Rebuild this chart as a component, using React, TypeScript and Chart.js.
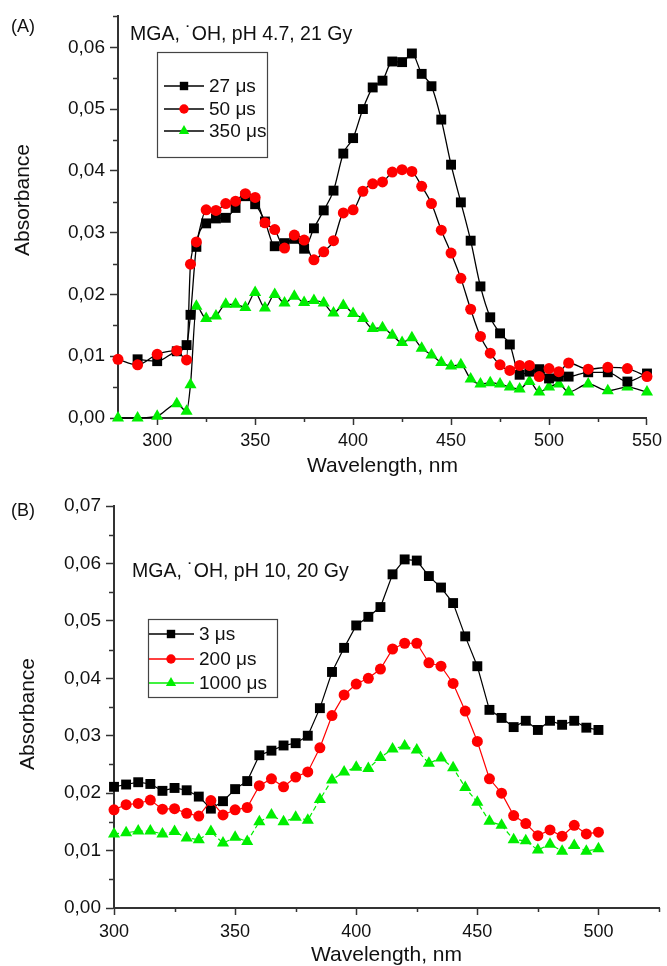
import React, { useEffect, useRef } from 'react';
import { Chart, registerables } from 'chart.js';

Chart.register(...registerables);

const FONT = '"Liberation Sans", Arial, Helvetica, sans-serif';

// ---------------- Panel (A) data ----------------
const wlA27 = [290, 300, 310, 315, 317, 320, 325, 330, 335, 340, 345, 350, 355, 360, 365, 370, 375, 380, 385, 390, 395, 400, 405, 410, 415, 420, 425, 430, 435, 440, 445, 450, 455, 460, 465, 470, 475, 480, 485, 490, 495, 500, 505, 510, 520, 530, 540, 550];
const absA27 = [0.0095, 0.0092, 0.0108, 0.0118, 0.0167, 0.0277, 0.0315, 0.0323, 0.0324, 0.0340, 0.0359, 0.0346, 0.0318, 0.0278, 0.0283, 0.0290, 0.0274, 0.0307, 0.0336, 0.0368, 0.0428, 0.0453, 0.0500, 0.0535, 0.0546, 0.0577, 0.0576, 0.0590, 0.0557, 0.0537, 0.0483, 0.0410, 0.0349, 0.0287, 0.0213, 0.0163, 0.0137, 0.0119, 0.0070, 0.0075, 0.0079, 0.0064, 0.0067, 0.0067, 0.0074, 0.0074, 0.0059, 0.0072];

const wlA50 = [280, 290, 300, 310, 315, 317, 320, 325, 330, 335, 340, 345, 350, 355, 360, 365, 370, 375, 380, 385, 390, 395, 400, 405, 410, 415, 420, 425, 430, 435, 440, 445, 450, 455, 460, 465, 470, 475, 480, 485, 490, 495, 500, 505, 510, 520, 530, 540, 550];
const absA50 = [0.0095, 0.0086, 0.0103, 0.0109, 0.0094, 0.0249, 0.0285, 0.0337, 0.0336, 0.0347, 0.0351, 0.0363, 0.0357, 0.0316, 0.0305, 0.0275, 0.0296, 0.0288, 0.0256, 0.0269, 0.0287, 0.0332, 0.0337, 0.0367, 0.0379, 0.0382, 0.0398, 0.0402, 0.0399, 0.0375, 0.0347, 0.0304, 0.0267, 0.0226, 0.0176, 0.0132, 0.0105, 0.0086, 0.0077, 0.0085, 0.0085, 0.0067, 0.0080, 0.0075, 0.0089, 0.0079, 0.0082, 0.0080, 0.0067];

const wlA350 = [280, 290, 300, 310, 315, 317, 320, 325, 330, 335, 340, 345, 350, 355, 360, 365, 370, 375, 380, 385, 390, 395, 400, 405, 410, 415, 420, 425, 430, 435, 440, 445, 450, 455, 460, 465, 470, 475, 480, 485, 490, 495, 500, 505, 510, 520, 530, 540, 550];
const absA350 = [0.0000, 0.0000, 0.0003, 0.0023, 0.0011, 0.0054, 0.0181, 0.0161, 0.0165, 0.0184, 0.0184, 0.0179, 0.0203, 0.0178, 0.0200, 0.0186, 0.0197, 0.0187, 0.0190, 0.0186, 0.0170, 0.0182, 0.0169, 0.0161, 0.0145, 0.0146, 0.0134, 0.0122, 0.0130, 0.0113, 0.0102, 0.0090, 0.0084, 0.0086, 0.0063, 0.0055, 0.0057, 0.0055, 0.0050, 0.0047, 0.0059, 0.0042, 0.0050, 0.0055, 0.0042, 0.0055, 0.0044, 0.0050, 0.0042];

const seriesLabelsA = ['27 μs', '50 μs', '350 μs'];

// ---------------- Panel (B) data ----------------
const wlB = [300, 305, 310, 315, 320, 325, 330, 335, 340, 345, 350, 355, 360, 365, 370, 375, 380, 385, 390, 395, 400, 405, 410, 415, 420, 425, 430, 435, 440, 445, 450, 455, 460, 465, 470, 475, 480, 485, 490, 495, 500];
const absB3 = [0.0211, 0.0215, 0.0219, 0.0216, 0.0204, 0.0209, 0.0205, 0.0194, 0.0173, 0.0186, 0.0207, 0.0221, 0.0266, 0.0274, 0.0283, 0.0287, 0.0300, 0.0348, 0.0411, 0.0453, 0.0492, 0.0507, 0.0524, 0.0581, 0.0607, 0.0605, 0.0578, 0.0558, 0.0531, 0.0473, 0.0421, 0.0345, 0.0331, 0.0315, 0.0326, 0.0310, 0.0326, 0.0319, 0.0326, 0.0314, 0.0310];
const absB200 = [0.0171, 0.0180, 0.0182, 0.0188, 0.0172, 0.0173, 0.0165, 0.0160, 0.0187, 0.0162, 0.0171, 0.0175, 0.0213, 0.0225, 0.0211, 0.0228, 0.0237, 0.0279, 0.0335, 0.0371, 0.0390, 0.0400, 0.0416, 0.0451, 0.0461, 0.0461, 0.0427, 0.0421, 0.0391, 0.0343, 0.0290, 0.0225, 0.0200, 0.0161, 0.0147, 0.0126, 0.0136, 0.0125, 0.0144, 0.0129, 0.0132];
const absB1000 = [0.0129, 0.0131, 0.0134, 0.0134, 0.0129, 0.0133, 0.0122, 0.0119, 0.0133, 0.0113, 0.0123, 0.0116, 0.0150, 0.0162, 0.0150, 0.0158, 0.0153, 0.0189, 0.0223, 0.0237, 0.0245, 0.0243, 0.0262, 0.0277, 0.0282, 0.0275, 0.0252, 0.0261, 0.0244, 0.0210, 0.0184, 0.0151, 0.0144, 0.0119, 0.0117, 0.0101, 0.0111, 0.0099, 0.0109, 0.0099, 0.0103];

const seriesLabelsB = ['3 μs', '200 μs', '1000 μs'];

const xTitle = 'Wavelength, nm';
const yTitle = 'Absorbance';

// ---------------- helpers ----------------
const BLACK = '#000000';
const RED = '#ff0000';
const GREEN = '#00ee00';
const AXIS = '#333333';
const TEXT = '#111111';

const pts = (xs: number[], ys: number[]) => xs.map((x, i) => ({ x, y: ys[i] }));
const fmtY = (v: any) => Number(v).toFixed(2).replace('.', ',');

function drawMarker(ctx: CanvasRenderingContext2D, style: string, x: number, y: number, r: number, color: string) {
  ctx.save();
  ctx.fillStyle = color;
  ctx.beginPath();
  if (style === 'rect') {
    const h = r * Math.SQRT1_2;
    ctx.rect(x - h, y - h, 2 * h, 2 * h);
  } else if (style === 'circle') {
    ctx.arc(x, y, r, 0, Math.PI * 2);
  } else {
    ctx.moveTo(x, y - r);
    ctx.lineTo(x + r * 0.866, y + r / 2);
    ctx.lineTo(x - r * 0.866, y + r / 2);
    ctx.closePath();
  }
  ctx.fill();
  ctx.restore();
}

interface Decor {
  panel: { text: string; x: number; y: number };
  note: { text: string; x: number; y: number };
  yTitle: { text: string; x: number; y: number };
  legend: { box: [number, number, number, number]; rows: number[]; lineX1: number; lineX2: number; markerX: number; textX: number };
}

function makeDecor(d: Decor) {
  return {
    id: 'decor',
    afterDraw(chart: any) {
      const ctx: CanvasRenderingContext2D = chart.ctx;
      ctx.save();
      // minor ticks
      ctx.strokeStyle = AXIS;
      ctx.lineWidth = 1.5;
      const xs = chart.scales.x;
      const ys = chart.scales.y;
      const minorFor = (scale: any) => {
        const t = scale.ticks;
        const step = t[1].value - t[0].value;
        const half = step / 2;
        const out: number[] = [];
        const k0 = Math.ceil(scale.min / half - 1e-6);
        const k1 = Math.floor(scale.max / half + 1e-6);
        for (let k = k0; k <= k1; k++) if (Math.abs(k % 2) === 1) out.push(k * half);
        return out;
      };
      minorFor(ys).forEach((v) => {
        const py = Math.round(ys.getPixelForValue(v)) + 0.5;
        ctx.beginPath();
        ctx.moveTo(ys.right, py);
        ctx.lineTo(ys.right - 5, py);
        ctx.stroke();
      });
      minorFor(xs).forEach((v) => {
        const px = Math.round(xs.getPixelForValue(v)) + 0.5;
        ctx.beginPath();
        ctx.moveTo(px, xs.top);
        ctx.lineTo(px, xs.top + 4);
        ctx.stroke();
      });

      // panel label and annotation
      ctx.fillStyle = TEXT;
      ctx.textAlign = 'left';
      ctx.textBaseline = 'alphabetic';
      ctx.font = `18px ${FONT}`;
      ctx.fillText(d.panel.text, d.panel.x, d.panel.y);
      ctx.font = `19.5px ${FONT}`;
      ctx.fillText(d.note.text, d.note.x, d.note.y);

      // y title
      ctx.save();
      ctx.translate(d.yTitle.x, d.yTitle.y);
      ctx.rotate(-Math.PI / 2);
      ctx.textAlign = 'center';
      ctx.textBaseline = 'middle';
      ctx.font = `21px ${FONT}`;
      ctx.fillText(d.yTitle.text, 0, 0);
      ctx.restore();

      // legend
      const L = d.legend;
      const [bx, by, bw, bh] = L.box;
      ctx.fillStyle = '#ffffff';
      ctx.fillRect(bx, by, bw, bh);
      ctx.strokeStyle = '#444444';
      ctx.lineWidth = 1.2;
      ctx.strokeRect(bx + 0.5, by + 0.5, bw, bh);
      chart.data.datasets.forEach((ds: any, i: number) => {
        const yy = L.rows[i];
        ctx.strokeStyle = ds.borderColor;
        ctx.lineWidth = 1.3;
        ctx.setLineDash([]);
        ctx.beginPath();
        ctx.moveTo(L.lineX1, yy);
        ctx.lineTo(L.lineX2, yy);
        ctx.stroke();
        drawMarker(ctx, ds.pointStyle, L.markerX, yy, ds.pointRadius * 0.85, ds.pointBackgroundColor);
        ctx.fillStyle = TEXT;
        ctx.font = `19px ${FONT}`;
        ctx.textAlign = 'left';
        ctx.textBaseline = 'middle';
        ctx.fillText(ds.label, L.textX, yy + 1);
      });
      ctx.restore();
    },
  };
}

function axisX(min: number, max: number, height: number, labelPad: number, titlePad: number) {
  return {
    type: 'linear',
    position: 'bottom',
    min,
    max,
    ticks: {
      stepSize: 50,
      includeBounds: false,
      maxRotation: 0,
      autoSkip: false,
      padding: labelPad,
      color: TEXT,
      font: { family: FONT, size: 18 },
      callback: (v: any) => String(v),
    },
    grid: { drawOnChartArea: false, drawTicks: true, tickLength: 7, tickColor: AXIS, tickWidth: 1.5, color: AXIS },
    border: { display: true, color: AXIS, width: 2 },
    title: {
      display: true,
      text: xTitle,
      color: TEXT,
      font: { family: FONT, size: 21, lineHeight: 1 },
      padding: { top: 0, bottom: titlePad },
    },
    afterFit: (s: any) => {
      s.height = height;
    },
  };
}

function axisY(max: number, width: number) {
  return {
    type: 'linear',
    position: 'left',
    min: 0,
    max,
    ticks: {
      stepSize: 0.01,
      includeBounds: false,
      padding: 5,
      color: TEXT,
      font: { family: FONT, size: 19 },
      callback: fmtY,
    },
    grid: { drawOnChartArea: false, drawTicks: true, tickLength: 8, tickColor: AXIS, tickWidth: 1.5, color: AXIS },
    border: { display: true, color: AXIS, width: 2 },
    afterFit: (s: any) => {
      s.width = width;
    },
  };
}

function configA() {
  const common = { borderColor: BLACK, borderWidth: 1.3, pointBorderWidth: 0, cubicInterpolationMode: 'monotone', clip: false };
  return {
    type: 'line',
    data: {
      datasets: [
        { ...common, label: seriesLabelsA[0], data: pts(wlA27, absA27), pointStyle: 'rect', pointRadius: 7, pointBackgroundColor: BLACK, order: 2 },
        { ...common, label: seriesLabelsA[1], data: pts(wlA50, absA50), pointStyle: 'circle', pointRadius: 5.5, pointBackgroundColor: RED, order: 1 },
        { ...common, label: seriesLabelsA[2], data: pts(wlA350, absA350), pointStyle: 'triangle', pointRadius: 7, pointBackgroundColor: GREEN, order: 3 },
      ],
    },
    options: {
      responsive: false,
      animation: false,
      events: [],
      layout: { padding: { left: 0, top: 15, right: 17, bottom: 0 } },
      scales: { x: axisX(280, 550, 64, 5, 5), y: axisY(0.065, 118) },
      plugins: { legend: { display: false }, tooltip: { enabled: false }, title: { display: false } },
    },
    plugins: [
      makeDecor({
        panel: { text: '(A)', x: 11, y: 32 },
        note: { text: 'MGA, \u02D9OH, pH 4.7, 21 Gy', x: 130, y: 40 },
        yTitle: { text: yTitle, x: 23, y: 200 },
        legend: { box: [157, 52, 110, 105], rows: [86, 109, 131], lineX1: 164, lineX2: 204, markerX: 184, textX: 209 },
      }),
    ],
  };
}

function configB() {
  const common = { borderWidth: 1.2, pointBorderWidth: 0, tension: 0, clip: false };
  return {
    type: 'line',
    data: {
      datasets: [
        { ...common, label: seriesLabelsB[0], data: pts(wlB, absB3), borderColor: BLACK, pointStyle: 'rect', pointRadius: 7, pointBackgroundColor: BLACK, order: 2 },
        { ...common, label: seriesLabelsB[1], data: pts(wlB, absB200), borderColor: RED, pointStyle: 'circle', pointRadius: 5.5, pointBackgroundColor: RED, order: 1 },
        { ...common, label: seriesLabelsB[2], data: pts(wlB, absB1000), borderColor: GREEN, borderDash: [5, 3], pointStyle: 'triangle', pointRadius: 7, pointBackgroundColor: GREEN, order: 3 },
      ],
    },
    options: {
      responsive: false,
      animation: false,
      events: [],
      layout: { padding: { left: 0, top: 24, right: 8, bottom: 0 } },
      scales: { x: axisX(300, 525, 58, 6, 0), y: axisY(0.07, 114) },
      plugins: { legend: { display: false }, tooltip: { enabled: false }, title: { display: false } },
    },
    plugins: [
      makeDecor({
        panel: { text: '(B)', x: 11, y: 34 },
        note: { text: 'MGA, \u02D9OH, pH 10, 20 Gy', x: 132, y: 95 },
        yTitle: { text: yTitle, x: 28, y: 232 },
        legend: { box: [148, 137, 129, 78], rows: [152, 177, 201], lineX1: 149, lineX2: 194, markerX: 171, textX: 199 },
      }),
    ],
  };
}

function ChartCanvas({ make, top, height }: { make: () => any; top: number; height: number }) {
  const ref = useRef<HTMLCanvasElement>(null);
  useEffect(() => {
    const chart = new Chart(ref.current as HTMLCanvasElement, make());
    return () => chart.destroy();
  }, []);
  return (
    <canvas
      ref={ref}
      width={667}
      height={height}
      style={{ position: 'absolute', left: 0, top, width: 667, height, display: 'block' }}
    />
  );
}

export default function App() {
  return (
    <div style={{ position: 'absolute', left: 0, top: 0, width: 667, height: 966, overflow: 'hidden', background: '#ffffff' }}>
      <ChartCanvas make={configA} top={0} height={482} />
      <ChartCanvas make={configB} top={482} height={484} />
    </div>
  );
}
